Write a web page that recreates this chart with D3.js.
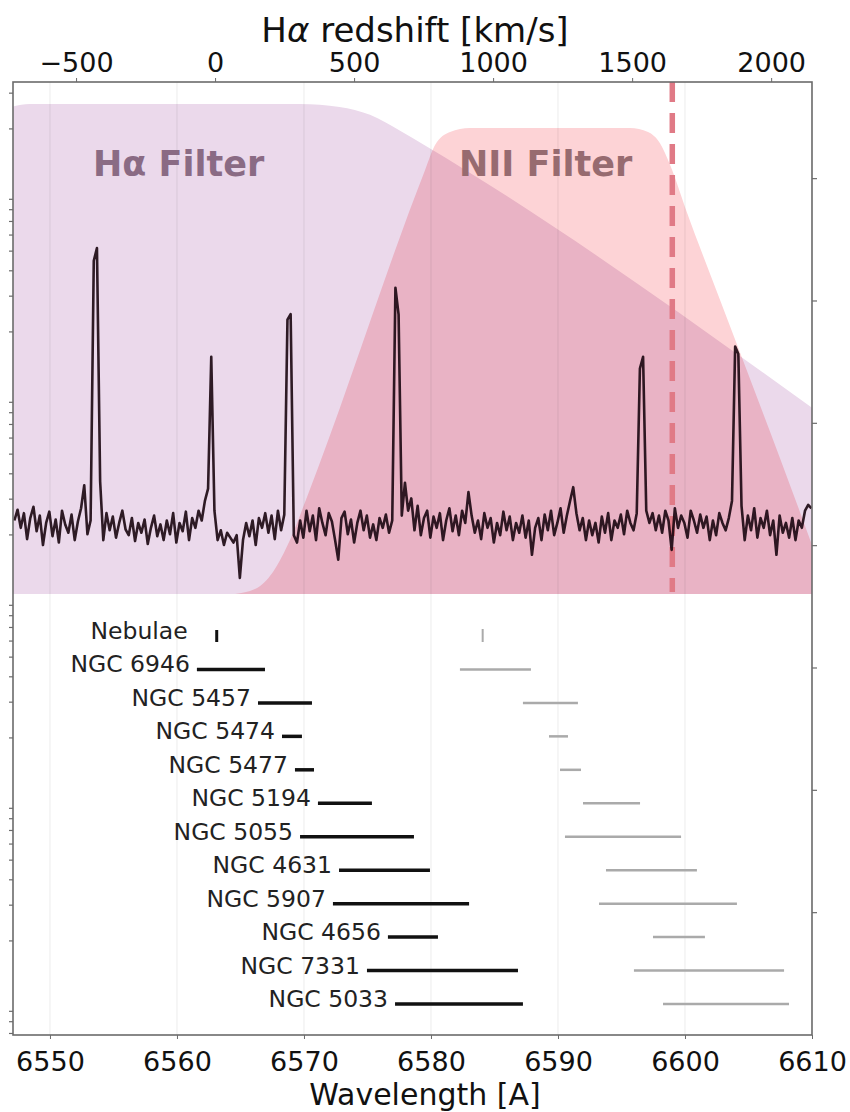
<!DOCTYPE html>
<html>
<head>
<meta charset="utf-8">
<script src="https://cdn.jsdelivr.net/npm/d3@7"></script>
<style>
body { margin: 0; background: #fff; }
text { font-family: "DejaVu Sans", sans-serif; }
</style>
</head>
<body>
<svg id="chart" width="850" height="1112"></svg>
<script>
// tick values
var waveTicks = [6550, 6560, 6570, 6580, 6590, 6600, 6610];
var velTicks = [-500, 0, 500, 1000, 1500, 2000];

// filter transmission curves
var haFilterWave = [6547.09, 6548.4, 6560.0, 6569.7, 6572.8, 6575.2, 6577.6, 6579.5, 6610.0];
var haFilterTrans = [0.995, 1.0, 1.0, 1.0, 0.994, 0.978, 0.945, 0.916, 0.380];
var niiFilterWave = [6564.57, 6566.14, 6567.56, 6568.90, 6570.24, 6579.53, 6580.31, 6581.50, 6583.07,
  6595.67, 6597.09, 6598.03, 6598.82, 6600.16, 6602.76, 6608.90, 6610.0];
var niiFilterTrans = [0.0, 0.010, 0.045, 0.110, 0.198, 0.865, 0.916, 0.943, 0.951,
  0.951, 0.943, 0.920, 0.876, 0.778, 0.600, 0.178, 0.100];

// spectrum, 0.25 A sampling starting at 6547.2
var specStart = 6547.2;
var specStep = 0.25;
var specFlux = [
  0.10, 0.32, -0.05, 0.25, -0.28, 0.15, 0.38, -0.12, 0.20, -0.40,
  0.05, 0.28, -0.22, 0.12, -0.35, 0.30, 0.02, -0.15, 0.22, -0.30,
  0.08, 0.35, 0.82, -0.18, 0.10, 5.40, 5.66, 0.90, -0.30, 0.25,
  -0.10, 0.18, -0.25, 0.05, 0.30, -0.08, -0.20, 0.15, -0.32, 0.05,
  -0.15, 0.12, -0.38, -0.05, 0.20, -0.22, 0.02, -0.30, 0.10, -0.18,
  0.25, -0.35, 0.05, -0.12, 0.28, -0.30, 0.15, -0.05, 0.30, 0.10,
  0.50, 0.75, 3.44, 0.30, -0.30, -0.10, -0.40, -0.15, -0.25, -0.35,
  -0.20, -1.07, -0.30, 0.05, -0.22, 0.10, -0.40, 0.15, -0.05, 0.25,
  -0.15, 0.20, -0.28, 0.30, -0.10, 0.22, 4.20, 4.31, -0.20, -0.35,
  0.10, -0.25, 0.30, -0.12, 0.20, -0.30, 0.35, 0.05, -0.20, 0.25,
  0.08, -0.30, -0.70, 0.15, 0.28, -0.18, 0.12, -0.35, 0.05, 0.30,
  -0.10, 0.20, -0.25, 0.02, -0.30, 0.15, -0.05, 0.22, -0.15, 0.10,
  4.85, 4.30, 0.20, 0.87, 0.30, 0.55, -0.10, 0.40, -0.20, 0.15,
  0.30, -0.25, 0.18, -0.05, 0.25, -0.30, 0.10, 0.35, -0.12, 0.20,
  -0.20, 0.30, 0.05, 0.68, 0.20, -0.15, 0.10, -0.28, 0.25, -0.05,
  0.15, -0.35, 0.05, -0.20, 0.28, -0.10, 0.18, -0.30, 0.05, -0.15,
  0.20, -0.25, 0.10, -0.60, -0.05, 0.15, -0.30, 0.22, -0.10, 0.30,
  -0.20, 0.05, 0.35, -0.15, 0.20, 0.50, 0.78, 0.25, -0.10, 0.15,
  -0.30, 0.10, -0.20, 0.05, -0.35, 0.18, -0.15, 0.25, -0.30, 0.10,
  -0.05, 0.22, -0.18, 0.30, 0.05, -0.10, 0.25, 3.20, 3.44, 0.30,
  0.05, 0.25, -0.10, 0.20, -0.15, 0.30, 0.10, -0.50, 0.35, -0.05,
  0.20, 0.05, -0.25, 0.30, 0.10, -0.15, 0.22, -0.05, 0.18, -0.30,
  0.10, -0.20, 0.25, 0.05, -0.10, 0.15, 0.50, 3.65, 3.50, 0.40,
  -0.30, 0.20, -0.10, 0.35, -0.25, 0.15, -0.05, 0.30, -0.20, 0.10,
  -0.60, 0.20, -0.15, 0.05, -0.25, 0.15, -0.30, 0.10, -0.05, 0.30,
  0.42, 0.35
];

// galaxies with their Halpha and NII wavelength ranges
var galaxies = ["Nebulae", "NGC 6946", "NGC 5457", "NGC 5474", "NGC 5477", "NGC 5194",
  "NGC 5055", "NGC 4631", "NGC 5907", "NGC 4656", "NGC 7331", "NGC 5033"];
var haStart = [6563.13, 6561.57, 6566.38, 6568.27, 6569.29, 6571.10, 6569.69, 6572.76, 6572.28, 6576.61, 6574.96, 6577.17];
var haEnd   = [6563.13, 6566.93, 6570.63, 6569.84, 6570.79, 6575.35, 6578.66, 6579.92, 6583.00, 6580.55, 6586.85, 6587.24];
var niiStart = [6584.07, 6582.28, 6587.24, 6589.29, 6590.16, 6591.97, 6590.55, 6593.78, 6593.23, 6597.48, 6595.98, 6598.27];
var niiEnd   = [6584.07, 6587.87, 6591.57, 6590.79, 6591.81, 6596.46, 6599.69, 6600.94, 6604.09, 6601.57, 6607.80, 6608.19];

var markerWave = 6599.0;

var pL = 13, pR = 812, pT = 82, pB = 1035;
var restHa = 6563.0, cLight = 299792.458;
var toVel = function (w) { return cLight * (w - restHa) / restHa; };

var svg = d3.select("#chart");
var x = d3.scaleLinear().domain([6547.09, 6610]).range([pL, pR]);
var xVel = d3.scaleLinear().domain([toVel(6547.09), toVel(6610)]).range([pL, pR]);
var yT = d3.scaleLinear().domain([0, 1]).range([594, 104]);
var yFlux = d3.scaleLinear().domain([-1.4, 8.6]).range([594, 104]);
var yRow = d3.scalePoint().domain(galaxies).range([636, 1004]);
var yLog = d3.scaleLog().domain([0.688, 34050]).range([pB, pT]);
var yRight = d3.scaleLinear().domain([0, 7.79]).range([pB, pT]);

svg.append("rect").attr("width", 850).attr("height", 1112).attr("fill", "#fff");

svg.append("clipPath").attr("id", "plotclip")
  .append("rect").attr("x", pL).attr("y", pT).attr("width", pR - pL).attr("height", pB - pT);

var plot = svg.append("g").attr("clip-path", "url(#plotclip)");

// filters
var area = d3.area()
  .x(function (d) { return x(d[0]); })
  .y0(yT(0))
  .y1(function (d) { return yT(d[1]); })
  .curve(d3.curveMonotoneX);

plot.append("path")
  .datum(d3.zip(haFilterWave, haFilterTrans))
  .attr("d", area)
  .attr("fill", "#ebd9eb");

plot.append("path")
  .datum(d3.zip(niiFilterWave, niiFilterTrans))
  .attr("d", area)
  .attr("fill", "#fdd3d6")
  .style("mix-blend-mode", "multiply");

// grid
plot.selectAll(".grid").data(waveTicks).enter().append("line")
  .attr("class", "grid")
  .attr("x1", function (d) { return x(d); }).attr("x2", function (d) { return x(d); })
  .attr("y1", pT).attr("y2", pB)
  .attr("stroke", "#000").attr("stroke-opacity", 0.08).attr("stroke-width", 1);

// marker line
plot.append("line")
  .attr("x1", x(markerWave)).attr("x2", x(markerWave))
  .attr("y1", pT).attr("y2", yT(0) - 2)
  .attr("stroke", "#e07a86").attr("stroke-width", 5.5)
  .attr("stroke-dasharray", "20,11");

// filter labels
svg.append("text").attr("x", 93).attr("y", 176)
  .attr("font-size", 35).attr("font-weight", "bold").attr("fill", "#8a6b84")
  .text("Hα Filter");
svg.append("text").attr("x", 459).attr("y", 176)
  .attr("font-size", 35).attr("font-weight", "bold").attr("fill", "#976b70")
  .text("NII Filter");

// spectrum
var line = d3.line()
  .x(function (d, i) { return x(specStart + i * specStep); })
  .y(function (d) { return yFlux(d); });

plot.append("path")
  .datum(specFlux)
  .attr("d", line)
  .attr("fill", "none")
  .attr("stroke", "#1a0510").attr("stroke-opacity", 0.9)
  .attr("stroke-width", 2.6).attr("stroke-linejoin", "round");

// galaxy ranges
var rows = galaxies.map(function (g, i) {
  return { name: g, hs: haStart[i], he: haEnd[i], ns: niiStart[i], ne: niiEnd[i] };
});

var rowG = plot.selectAll(".row").data(rows).enter().append("g").attr("class", "row");

rowG.each(function (d) {
  var g = d3.select(this);
  var yy = yRow(d.name);
  if (d.hs === d.he) {
    g.append("line").attr("x1", x(d.hs)).attr("x2", x(d.hs))
      .attr("y1", yy - 6).attr("y2", yy + 6)
      .attr("stroke", "#111").attr("stroke-width", 3);
    g.append("line").attr("x1", x(d.ns)).attr("x2", x(d.ns))
      .attr("y1", yy - 7).attr("y2", yy + 6)
      .attr("stroke", "#aaa").attr("stroke-width", 2);
  } else {
    g.append("line").attr("x1", x(d.hs)).attr("x2", x(d.he))
      .attr("y1", yy).attr("y2", yy)
      .attr("stroke", "#111").attr("stroke-width", 3.5);
    g.append("line").attr("x1", x(d.ns)).attr("x2", x(d.ne))
      .attr("y1", yy).attr("y2", yy)
      .attr("stroke", "#aaa").attr("stroke-width", 2.5);
  }
});

svg.selectAll(".glabel").data(rows).enter().append("text")
  .attr("class", "glabel")
  .attr("x", function (d) { return x(d.hs) - (d.hs === d.he ? 29 : 7); })
  .attr("y", function (d) { return yRow(d.name) + 3; })
  .attr("text-anchor", "end")
  .attr("font-size", 23.5)
  .attr("fill", "#222")
  .text(function (d) { return d.name; });

// frame
svg.append("rect")
  .attr("x", pL).attr("y", pT).attr("width", pR - pL).attr("height", pB - pT)
  .attr("fill", "none").attr("stroke", "#6b6b6b").attr("stroke-width", 1.6);

// left log ticks (minor only)
var logTicks = yLog.ticks().filter(function (v) {
  var l = Math.log10(v);
  return Math.abs(l - Math.round(l)) > 1e-6;
});
svg.selectAll(".ltick").data(logTicks).enter().append("line")
  .attr("x1", pL - 4).attr("x2", pL)
  .attr("y1", function (d) { return yLog(d); }).attr("y2", function (d) { return yLog(d); })
  .attr("stroke", "#6b6b6b").attr("stroke-width", 1.2);

// right ticks
svg.selectAll(".rtick").data(d3.range(1, 8)).enter().append("line")
  .attr("x1", pR).attr("x2", pR + 5)
  .attr("y1", function (d) { return yRight(d); }).attr("y2", function (d) { return yRight(d); })
  .attr("stroke", "#6b6b6b").attr("stroke-width", 1.2);

// bottom axis
var xAxis = d3.axisBottom(x).tickValues(waveTicks).tickSize(4).tickPadding(13).tickFormat(d3.format("d"));
var gx = svg.append("g").attr("transform", "translate(0," + pB + ")").call(xAxis);
gx.select(".domain").remove();
gx.selectAll(".tick line").attr("stroke", "#6b6b6b");
gx.selectAll("text").attr("font-size", 27).attr("fill", "#111").attr("font-family", "DejaVu Sans");

// top axis
var vAxis = d3.axisTop(xVel).tickValues(velTicks).tickSize(4).tickPadding(6).tickFormat(d3.format("d"));
var gv = svg.append("g").attr("transform", "translate(0," + pT + ")").call(vAxis);
gv.select(".domain").remove();
gv.selectAll(".tick line").attr("stroke", "#6b6b6b");
gv.selectAll("text").attr("font-size", 27).attr("fill", "#111").attr("font-family", "DejaVu Sans");

// axis titles
var tTop = svg.append("text").attr("x", 415).attr("y", 42)
  .attr("text-anchor", "middle").attr("font-size", 34).attr("fill", "#111");
tTop.append("tspan").text("H");
tTop.append("tspan").attr("font-style", "italic").text("α");
tTop.append("tspan").text(" redshift [km/s]");

svg.append("text").attr("x", 425).attr("y", 1105)
  .attr("text-anchor", "middle").attr("font-size", 30).attr("fill", "#111")
  .text("Wavelength [A]");
</script>
</body>
</html>
